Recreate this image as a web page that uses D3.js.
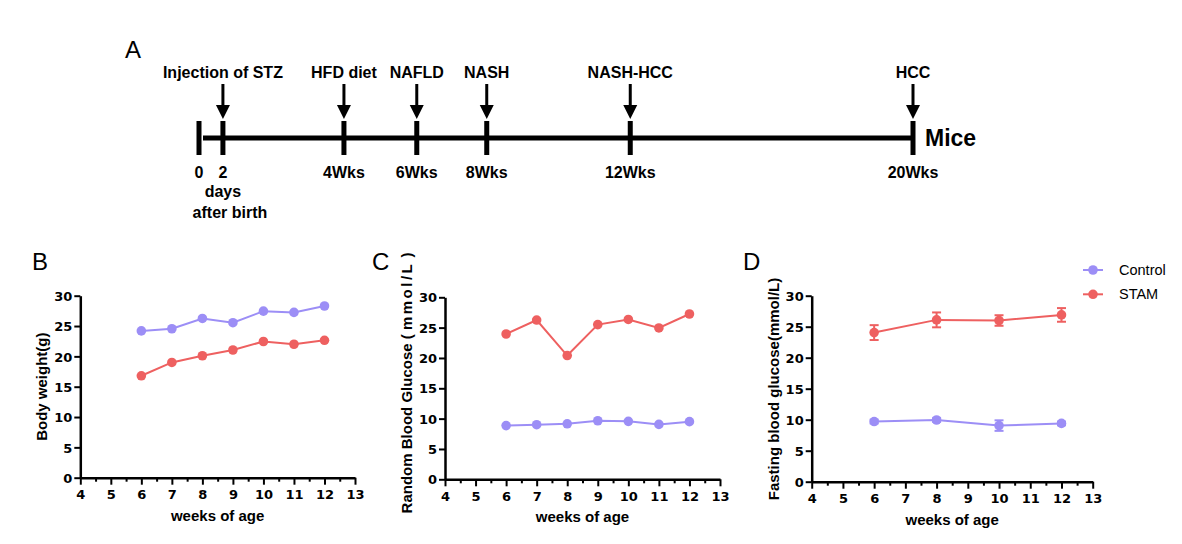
<!DOCTYPE html>
<html><head><meta charset="utf-8">
<script src="https://cdn.jsdelivr.net/npm/d3@7"></script>
<style>body{margin:0;background:#fff}svg{display:block}</style>
</head><body>
<svg id="c" width="1182" height="544"></svg>
<script>
// ---------- DATA ----------
const tlTickLabels = ["0", "2", "4Wks", "6Wks", "8Wks", "12Wks", "20Wks"];
const tlTickPos = [0, 0.67, 4.06, 6.1, 8.06, 12.08, 20];
const tlEvents = ["Injection of STZ", "HFD diet", "NAFLD", "NASH", "NASH-HCC", "HCC"];
const tlEventPos = [0.67, 4.06, 6.1, 8.06, 12.08, 20];

const weeksBC = [6, 7, 8, 9, 10, 11, 12];
const bwControl = [24.2, 24.55, 26.25, 25.55, 27.45, 27.25, 28.3];
const bwSTAM = [16.8, 19.0, 20.1, 21.05, 22.45, 22.0, 22.65];
const rbgControl = [8.85, 9.0, 9.15, 9.65, 9.55, 9.05, 9.5];
const rbgSTAM = [23.95, 26.25, 20.4, 25.5, 26.35, 24.95, 27.25];

const weeksD = [6, 8, 10, 12];
const fbgControl = [9.7, 9.95, 9.05, 9.4];
const fbgControlErr = [0.3, 0.3, 0.85, 0.3];
const fbgSTAM = [24.05, 26.1, 26.0, 26.9];
const fbgSTAMErr = [1.2, 1.2, 0.85, 1.1];

const xTicks = [4, 5, 6, 7, 8, 9, 10, 11, 12, 13];
const xMinorTicks = [4.5, 5.5, 6.5, 7.5, 8.5, 9.5, 10.5, 11.5, 12.5];
const yTicks = [0, 5, 10, 15, 20, 25, 30];
const seriesNames = ["Control", "STAM"];
const colors = {Control: "#9c8ef6", STAM: "#ee6060"};

// ---------- DRAW ----------
const svg = d3.select("#c");
const BOLD = "'Liberation Sans', Arial, sans-serif";
const TICKF = "'DejaVu Sans', sans-serif";

// Panel A: timeline
const tScale = d3.scaleLinear().domain([0, 20]).range([199, 913]);
const gA = svg.append("g");
gA.append("text").attr("x", 125).attr("y", 58).text("A")
  .attr("font-family", BOLD).attr("font-size", 24);
gA.append("line").attr("x1", tScale(0) + 4).attr("x2", tScale(20)).attr("y1", 138).attr("y2", 138)
  .attr("stroke", "#000").attr("stroke-width", 5);
gA.selectAll("rect.tk").data(tlTickPos).join("rect")
  .attr("x", d => tScale(d) - 2.5).attr("y", 121).attr("width", 5).attr("height", 34).attr("fill", "#000");
gA.selectAll("text.tl").data(tlTickLabels).join("text")
  .attr("x", (d, i) => tScale(tlTickPos[i])).attr("y", 178).attr("text-anchor", "middle")
  .attr("font-family", BOLD).attr("font-weight", "bold").attr("font-size", 16).text(d => d);
gA.append("text").attr("x", tScale(tlTickPos[1])).attr("y", 197).attr("text-anchor", "middle")
  .attr("font-family", BOLD).attr("font-weight", "bold").attr("font-size", 16).text("days");
gA.append("text").attr("x", tScale(tlTickPos[1]) + 7).attr("y", 218).attr("text-anchor", "middle")
  .attr("font-family", BOLD).attr("font-weight", "bold").attr("font-size", 16).text("after birth");
const ev = gA.selectAll("g.ev").data(tlEvents).join("g")
  .attr("transform", (d, i) => `translate(${tScale(tlEventPos[i])},0)`);
ev.append("text").attr("y", 78).attr("text-anchor", "middle")
  .attr("font-family", BOLD).attr("font-weight", "bold").attr("font-size", 16).text(d => d);
ev.append("line").attr("y1", 84).attr("y2", 107).attr("stroke", "#000").attr("stroke-width", 3);
ev.append("path").attr("d", "M-7,105L7,105L0,119Z").attr("fill", "#000");
gA.append("text").attr("x", tScale(20) + 12).attr("y", 146)
  .attr("font-family", BOLD).attr("font-weight", "bold").attr("font-size", 23).text("Mice");

// Generic panel
function panel(cfg) {
  const g = svg.append("g");
  const x = d3.scaleLinear().domain([4, 13]).range([cfg.x0, cfg.x1]);
  const y = d3.scaleLinear().domain([0, 30]).range([cfg.y0, cfg.y1]);
  g.append("text").attr("x", cfg.lx).attr("y", 270).text(cfg.letter)
    .attr("font-family", BOLD).attr("font-size", 24);

  const xa = g.append("g").attr("transform", `translate(0,${cfg.y0})`)
    .call(d3.axisBottom(x).tickValues(xTicks).tickSize(7).tickSizeOuter(0).tickPadding(5).tickFormat(d3.format("d")));
  const xm = g.append("g").attr("transform", `translate(0,${cfg.y0})`)
    .call(d3.axisBottom(x).tickValues(xMinorTicks).tickSize(4).tickSizeOuter(0).tickFormat(""));
  xm.select(".domain").remove();
  const ya = g.append("g").attr("transform", `translate(${cfg.x0},0)`)
    .call(d3.axisLeft(y).tickValues(yTicks).tickSize(6).tickSizeOuter(0).tickPadding(2));
  [xa, xm, ya].forEach(a => {
    a.select(".domain").attr("stroke-width", 2.5).attr("stroke", "#000");
    a.selectAll(".tick line").attr("stroke-width", 2).attr("stroke", "#000");
    a.selectAll(".tick text").attr("font-family", TICKF).attr("font-weight", "bold")
      .attr("font-size", 13).attr("fill", "#000");
  });
  ya.selectAll(".tick text").attr("dy", "0.36em");

  g.append("text").attr("x", (cfg.x0 + cfg.x1) / 2).attr("y", cfg.y0 + 43).attr("text-anchor", "middle")
    .attr("font-family", BOLD).attr("font-weight", "bold").attr("font-size", 15).text("weeks of age");
  const yt = g.append("text").attr("transform", `translate(${cfg.ytx},${cfg.yty}) rotate(-90)`)
    .attr("text-anchor", "middle").attr("font-family", BOLD).attr("font-weight", "bold").attr("font-size", 15);
  cfg.ytitle(yt);

  cfg.series.forEach(s => {
    const col = colors[s.name];
    const pts = s.vals.map((v, i) => [cfg.weeks[i], v, s.err ? s.err[i] : 0]);
    g.append("path").datum(pts).attr("fill", "none").attr("stroke", col).attr("stroke-width", 2)
      .attr("d", d3.line().x(d => x(d[0])).y(d => y(d[1])));
    if (s.err) {
      const eb = g.selectAll(null).data(pts).join("g").attr("stroke", col).attr("stroke-width", 2);
      eb.append("line").attr("x1", d => x(d[0])).attr("x2", d => x(d[0]))
        .attr("y1", d => y(d[1] - d[2])).attr("y2", d => y(d[1] + d[2]));
      eb.append("line").attr("x1", d => x(d[0]) - 4.5).attr("x2", d => x(d[0]) + 4.5)
        .attr("y1", d => y(d[1] + d[2])).attr("y2", d => y(d[1] + d[2]));
      eb.append("line").attr("x1", d => x(d[0]) - 4.5).attr("x2", d => x(d[0]) + 4.5)
        .attr("y1", d => y(d[1] - d[2])).attr("y2", d => y(d[1] - d[2]));
    }
    g.selectAll(null).data(pts).join("circle").attr("cx", d => x(d[0])).attr("cy", d => y(d[1]))
      .attr("r", 4.8).attr("fill", col);
  });
}

panel({letter: "B", lx: 32, x0: 80.3, x1: 355, y0: 477.7, y1: 295.7, ytx: 47, yty: 386.7,
  ytitle: t => t.text("Body weight(g)"), weeks: weeksBC,
  series: [{name: "Control", vals: bwControl}, {name: "STAM", vals: bwSTAM}]});
panel({letter: "C", lx: 372, x0: 445, x1: 720, y0: 479.3, y1: 297.3, ytx: 412, yty: 383,
  ytitle: t => { t.append("tspan").text("Random Blood Glucose ( ");
                 t.append("tspan").attr("letter-spacing", 2.5).text("mmol/L");
                 t.append("tspan").text(" )"); },
  weeks: weeksBC,
  series: [{name: "Control", vals: rbgControl}, {name: "STAM", vals: rbgSTAM}]});
panel({letter: "D", lx: 743, x0: 811.7, x1: 1092.7, y0: 481.7, y1: 295.7, ytx: 778.5, yty: 389,
  ytitle: t => t.text("Fasting blood glucose(mmol/L)"), weeks: weeksD,
  series: [{name: "Control", vals: fbgControl, err: fbgControlErr}, {name: "STAM", vals: fbgSTAM, err: fbgSTAMErr}]});

// Legend
const lg = svg.append("g").selectAll("g").data(seriesNames).join("g")
  .attr("transform", (d, i) => `translate(1083,${270 + i * 24.3})`);
lg.append("line").attr("x1", 0).attr("x2", 20).attr("stroke", d => colors[d]).attr("stroke-width", 2);
lg.append("circle").attr("cx", 10).attr("r", 4.8).attr("fill", d => colors[d]);
lg.append("text").attr("x", 36).attr("y", 5).attr("font-family", BOLD).attr("font-size", 14.5).text(d => d);
</script>
</body></html>
